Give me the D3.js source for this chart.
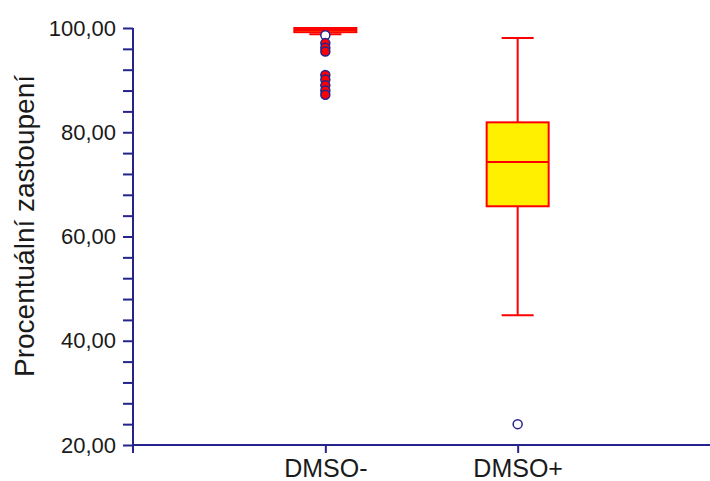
<!DOCTYPE html>
<html>
<head>
<meta charset="utf-8">
<script src="https://cdn.jsdelivr.net/npm/d3@7"></script>
<style>
body { margin: 0; background: #fff; }
svg text { font-family: "Liberation Sans", Arial, sans-serif; fill: #1a1a1a; }
</style>
</head>
<body>
<svg id="chart" width="710" height="481"></svg>
<script>
// box summary per group
var categories = ["DMSO-", "DMSO+"];
var whiskerLow = [98.8, 44.9];
var q1 = [99.2, 65.8];
var median = [99.6, 74.3];
var q3 = [100, 81.9];
var whiskerHigh = [100, 98.1];

// single points outside the whiskers
var outlierCat = ["DMSO-", "DMSO-", "DMSO-", "DMSO-", "DMSO-", "DMSO-", "DMSO-", "DMSO-", "DMSO-", "DMSO+"];
var outlierValue = [98.6, 97.1, 96.2, 95.5, 91.0, 90.1, 89.0, 88.0, 87.2, 24.0];
var outlierFilled = [false, true, true, true, true, true, true, true, true, false];

var yTicks = [20, 24, 28, 32, 36, 40, 44, 48, 52, 56, 60, 64, 68, 72, 76, 80, 84, 88, 92, 96, 100];

var cfg = {
	left: 133,
	right: 710,
	top: 28,
	bottom: 445,
	boxWidth: 62,
	capWidth: 32,
	axisColor: "#24248c",
	red: "#ff0000",
	yellow: "#fff000"
};

var svg = d3.select("#chart");

var x = d3.scalePoint()
	.domain(categories)
	.range([cfg.left, cfg.right])
	.padding(1);

var y = d3.scaleLinear()
	.domain([20, 100])
	.range([cfg.bottom, cfg.top]);

var fmt = function(d) { return d3.format(".2f")(d).replace(".", ","); };

// y axis
var yAxis = svg.append("g")
	.attr("transform", "translate(" + cfg.left + ",0)")
	.call(d3.axisLeft(y)
		.tickValues(yTicks)
		.tickSize(10)
		.tickPadding(7)
		.tickFormat(function(d) { return d % 20 === 0 ? fmt(d) : ""; }));
yAxis.select(".domain").attr("stroke", cfg.axisColor).attr("stroke-width", 2)
	.attr("d", "M0," + cfg.top + "V" + (cfg.bottom + 8));
yAxis.selectAll(".tick line").attr("stroke", cfg.axisColor).attr("stroke-width", 2);
yAxis.selectAll(".tick text").style("font-size", "22px").attr("fill", "#1a1a1a");

// x axis
var xAxis = svg.append("g")
	.attr("transform", "translate(0," + cfg.bottom + ")")
	.call(d3.axisBottom(x).tickSize(8).tickPadding(6));
xAxis.select(".domain").attr("stroke", cfg.axisColor).attr("stroke-width", 2)
	.attr("d", "M" + cfg.left + ",0H" + cfg.right);
xAxis.selectAll(".tick line").attr("stroke", cfg.axisColor).attr("stroke-width", 2);
xAxis.selectAll(".tick text").style("font-size", "25px").attr("fill", "#1a1a1a");

// y label
svg.append("text")
	.attr("transform", "translate(34," + 226 + ") rotate(-90)")
	.attr("text-anchor", "middle")
	.style("font-size", "28px")
	.text("Procentuální zastoupení");

// boxes
var boxes = categories.map(function(c, i) {
	return { cat: c, lo: whiskerLow[i], q1: q1[i], med: median[i], q3: q3[i], hi: whiskerHigh[i] };
});

var g = svg.selectAll("g.box")
	.data(boxes)
	.enter().append("g")
	.attr("class", "box")
	.attr("transform", function(d) { return "translate(" + x(d.cat) + ",0)"; });

g.append("line")
	.attr("y1", function(d) { return y(d.hi); })
	.attr("y2", function(d) { return y(d.q3); })
	.attr("stroke", cfg.red).attr("stroke-width", 2);
g.append("line")
	.attr("y1", function(d) { return y(d.q1); })
	.attr("y2", function(d) { return y(d.lo); })
	.attr("stroke", cfg.red).attr("stroke-width", 2);
g.append("line")
	.attr("x1", -cfg.capWidth / 2).attr("x2", cfg.capWidth / 2)
	.attr("y1", function(d) { return y(d.hi); })
	.attr("y2", function(d) { return y(d.hi); })
	.attr("stroke", cfg.red).attr("stroke-width", 2);
g.append("line")
	.attr("x1", -cfg.capWidth / 2).attr("x2", cfg.capWidth / 2)
	.attr("y1", function(d) { return y(d.lo); })
	.attr("y2", function(d) { return y(d.lo); })
	.attr("stroke", cfg.red).attr("stroke-width", 2);
g.append("rect")
	.attr("x", -cfg.boxWidth / 2)
	.attr("width", cfg.boxWidth)
	.attr("y", function(d) { return y(d.q3); })
	.attr("height", function(d) { return y(d.q1) - y(d.q3); })
	.attr("fill", cfg.yellow)
	.attr("stroke", cfg.red).attr("stroke-width", 2);
g.append("line")
	.attr("x1", -cfg.boxWidth / 2).attr("x2", cfg.boxWidth / 2)
	.attr("y1", function(d) { return y(d.med); })
	.attr("y2", function(d) { return y(d.med); })
	.attr("stroke", cfg.red).attr("stroke-width", 2);

// outliers
svg.selectAll("circle.out")
	.data(outlierValue)
	.enter().append("circle")
	.attr("class", "out")
	.attr("cx", function(d, i) { return x(outlierCat[i]); })
	.attr("cy", function(d) { return y(d); })
	.attr("r", 4.5)
	.attr("fill", function(d, i) { return outlierFilled[i] ? cfg.red : "#fff"; })
	.attr("stroke", cfg.axisColor)
	.attr("stroke-width", 1.5);
</script>
</body>
</html>
